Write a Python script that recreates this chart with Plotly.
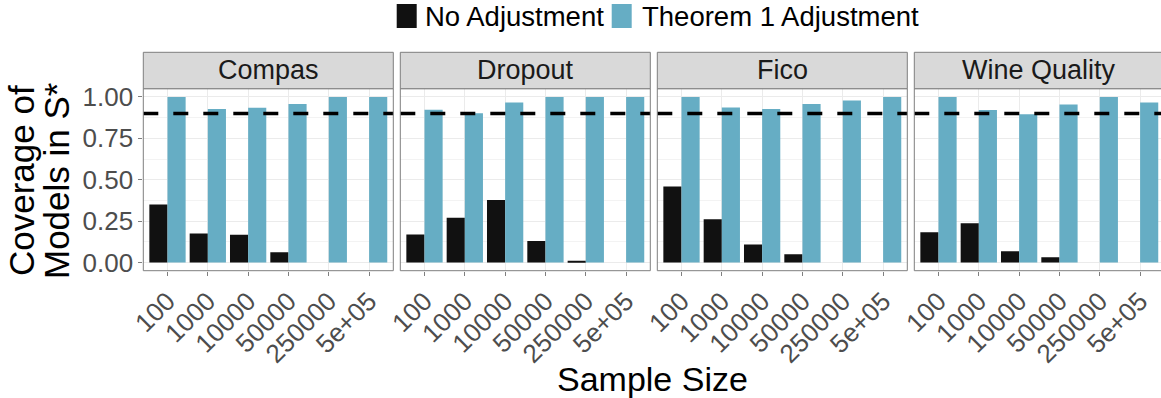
import plotly.graph_objects as go

W, H = 1161, 398

datasets = ["Compas", "Dropout", "Fico", "Wine Quality"]
sample_sizes = ["100", "1000", "10000", "50000", "250000", "5e+05"]
series_names = ["No Adjustment", "Theorem 1 Adjustment"]
series_colors = ["#111111", "#66adc4"]

no_adjustment = {
    "Compas":       [0.350, 0.175, 0.167, 0.062, 0.000, 0.000],
    "Dropout":      [0.169, 0.270, 0.378, 0.129, 0.010, 0.000],
    "Fico":         [0.459, 0.261, 0.109, 0.050, 0.000, 0.000],
    "Wine Quality": [0.183, 0.237, 0.068, 0.032, 0.000, 0.000],
}
theorem1_adjustment = {
    "Compas":       [1.000, 0.927, 0.935, 0.958, 1.000, 1.000],
    "Dropout":      [0.923, 0.901, 0.967, 1.000, 1.000, 1.000],
    "Fico":         [1.000, 0.937, 0.927, 0.958, 0.978, 1.000],
    "Wine Quality": [1.000, 0.921, 0.895, 0.954, 1.000, 0.966],
}
target_coverage = 0.9
y_ticks = [0.0, 0.25, 0.5, 0.75, 1.0]
y_tick_labels = ["0.00", "0.25", "0.50", "0.75", "1.00"]

# ---- layout geometry (pixels) ----
panel_left = [143.3, 400.3, 657.3, 914.3]
panel_w = 250.0
panel_top, panel_bot = 88.7, 270.7
strip_top = 52.3
px_per_unit = panel_w / 6.2

def fx(px):
    return px / W

def fy(py):
    return 1 - py / H

BORDER = "#7f7f7f"
FONT = "Liberation Sans, Arial, Helvetica, sans-serif"

fig = go.Figure()
shapes = []
annotations = []

for i, ds in enumerate(datasets):
    n = "" if i == 0 else str(i + 1)
    xa, ya = "x" + n, "y" + n
    for s, (name, color) in enumerate(zip(series_names, series_colors)):
        vals = no_adjustment[ds] if s == 0 else theorem1_adjustment[ds]
        fig.add_trace(go.Bar(
            x=sample_sizes, y=vals, name=name, marker=dict(color=color, line=dict(width=0)),
            xaxis=xa, yaxis=ya, showlegend=False, legendgroup=name,
            offsetgroup=str(s),
        ))
    left = panel_left[i]
    right = min(left + panel_w, W)
    x_end = -0.6 + (right - left) / px_per_unit
    fig.layout["xaxis" + n] = dict(
        domain=[fx(left), fx(right)], anchor=ya, range=[-0.6, x_end], automargin=False,
        type="category", categoryorder="array", categoryarray=sample_sizes,
        showgrid=True, gridcolor="#ebebeb", gridwidth=1,
        ticks="outside", ticklen=4, tickcolor=BORDER, tickwidth=1,
        tickangle=-45, tickfont=dict(size=26, color="#4d4d4d", family=FONT),
        showline=False, zeroline=False,
    )
    fig.layout["yaxis" + n] = dict(
        domain=[fy(panel_bot), fy(panel_top)], anchor=xa, range=[-0.05, 1.05], automargin=False,
        tickvals=y_ticks, ticktext=y_tick_labels, showticklabels=(i == 0),
        ticks="outside" if i == 0 else "", ticklen=4, tickcolor=BORDER, tickwidth=1,
        tickfont=dict(size=26, color="#4d4d4d", family=FONT),
        showgrid=True, gridcolor="#ebebeb", gridwidth=1,
        minor=dict(tickvals=[0.125, 0.375, 0.625, 0.875], showgrid=True,
                   gridcolor="#f3f3f3", gridwidth=0.8, ticks=""),
        zeroline=False, showline=False,
    )
    # target coverage dashed line
    shapes.append(dict(type="line", xref=xa + " domain", yref=ya, x0=0, x1=1,
                       y0=target_coverage, y1=target_coverage,
                       line=dict(color="black", width=3.5, dash="15px,15px"), layer="above"))
    # panel border
    r_px = left + panel_w
    shapes.append(dict(type="rect", xref="paper", yref="paper",
                       x0=fx(left), x1=fx(r_px), y0=fy(panel_bot), y1=fy(panel_top),
                       line=dict(color=BORDER, width=1), fillcolor="rgba(0,0,0,0)", layer="above"))
    # strip
    shapes.append(dict(type="rect", xref="paper", yref="paper",
                       x0=fx(left), x1=fx(r_px), y0=fy(panel_top), y1=fy(strip_top),
                       line=dict(color=BORDER, width=1), fillcolor="#d9d9d9", layer="above"))
    annotations.append(dict(text=ds, xref="paper", yref="paper",
                            x=fx(left + panel_w / 2), y=fy((strip_top + panel_top) / 2),
                            xanchor="center", yanchor="middle", showarrow=False,
                            font=dict(size=27, color="#1a1a1a", family=FONT)))

# legend (drawn as keys + labels to match the large key boxes)
legend_key_left = [396.7, 611.7]
legend_label_center = [514.0, 780.0]
for name, color, kx, lc in zip(series_names, series_colors, legend_key_left, legend_label_center):
    shapes.append(dict(type="rect", xref="paper", yref="paper",
                       x0=fx(kx), x1=fx(kx + 20), y0=fy(28), y1=fy(4),
                       line=dict(width=0), fillcolor=color))
    annotations.append(dict(text=name, xref="paper", yref="paper",
                            x=fx(lc), y=fy(16.5), xanchor="center", yanchor="middle",
                            showarrow=False, font=dict(size=27.5, color="black", family=FONT)))

# y axis title, two lines
for line_text, cx in [("Coverage of", 21), ("Models in S*", 56)]:
    annotations.append(dict(text=line_text, xref="paper", yref="paper",
                            x=fx(cx), y=fy(181), xanchor="center", yanchor="middle",
                            textangle=-90, showarrow=False,
                            font=dict(size=35, color="black", family=FONT)))
annotations.append(dict(text="Sample Size", xref="paper", yref="paper",
                        x=fx(652), y=fy(379), xanchor="center", yanchor="middle",
                        showarrow=False, font=dict(size=34, color="black", family=FONT)))

fig.update_layout(
    width=W, height=H, margin=dict(l=0, r=0, t=0, b=0, autoexpand=False),
    paper_bgcolor="white", plot_bgcolor="white",
    barmode="group", bargap=0.1, bargroupgap=0,
    shapes=shapes, annotations=annotations,
    font=dict(family=FONT), showlegend=False,
)

fig.write_html("out.html")
